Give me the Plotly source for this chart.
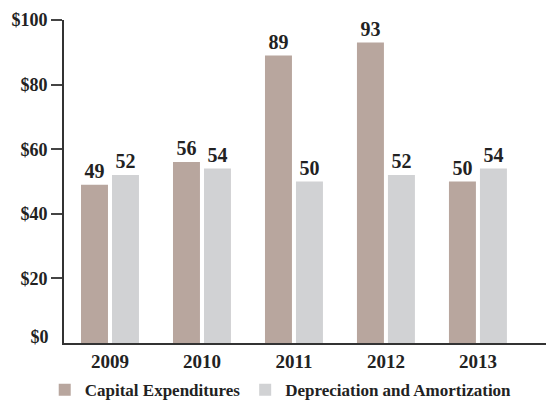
import plotly.graph_objects as go

years = ["2009", "2010", "2011", "2012", "2013"]
capex = [49, 56, 89, 93, 50]
dna = [52, 54, 50, 52, 54]
y_ticks = [20, 40, 60, 80, 100]
y_tick_text = ["$20", "$40", "$60", "$80", "$100"]
y_zero = [0]
y_zero_text = ["$0"]

FONT = "Liberation Serif"
fig = go.Figure()
fig.add_trace(go.Bar(x=years, y=capex, name="<b>Capital Expenditures</b>",
                     marker=dict(color="#b8a69e", line=dict(width=0)),
                     text=[f"<b>{v}</b>" for v in capex], textposition="outside",
                     textfont=dict(family=FONT, size=20, color="#222"), cliponaxis=False))
fig.add_trace(go.Bar(x=years, y=dna, name="<b>Depreciation and Amortization</b>",
                     marker=dict(color="#d1d2d4", line=dict(width=0)),
                     text=[f"<b>{v}</b>" for v in dna], textposition="outside",
                     textfont=dict(family=FONT, size=20, color="#222"), cliponaxis=False))

fig.update_layout(
    width=546, height=400,
    margin=dict(l=64, r=0, t=20, b=57, autoexpand=False),
    paper_bgcolor="white", plot_bgcolor="white",
    barmode="group", bargap=0.326, bargroupgap=0.13,
    font=dict(family=FONT, size=18, color="#222"),
    showlegend=True,
    legend=dict(orientation="h", x=-0.04, xanchor="left", y=-0.146, yanchor="middle",
                font=dict(family=FONT, size=17, color="#222"), itemsizing="constant",
                traceorder="normal"),
    xaxis=dict(type="category", range=[-0.5, 4.74], showline=True, linecolor="#333",
               linewidth=2, ticks="", showgrid=False,
               tickfont=dict(family=FONT, size=19, color="#222"),
               tickvals=years, ticktext=[f"<b>{y}</b>" for y in years]),
    yaxis=dict(range=[0, 100], tickvals=y_ticks, ticktext=[f"<b>{t}</b>" for t in y_tick_text],
               showline=True, linecolor="#333", linewidth=2, ticks="outside", ticklen=11,
               tickcolor="#444", tickwidth=2, showgrid=False, zeroline=False,
               tickfont=dict(family=FONT, size=18, color="#222")),
    yaxis2=dict(range=[0, 100], overlaying="y", side="left", tickvals=y_zero,
                ticktext=[f"<b>{t}</b>" for t in y_zero_text], showline=False,
                ticks="outside", ticklen=11, tickcolor="rgba(0,0,0,0)", showgrid=False,
                zeroline=False, ticklabelshift=-6,
                tickfont=dict(family=FONT, size=18, color="#222")),
)
fig.add_trace(go.Scatter(x=[years[0]], y=[0], yaxis="y2", mode="markers",
                         marker=dict(opacity=0), showlegend=False, hoverinfo="skip"))
fig.write_html("out.html")
